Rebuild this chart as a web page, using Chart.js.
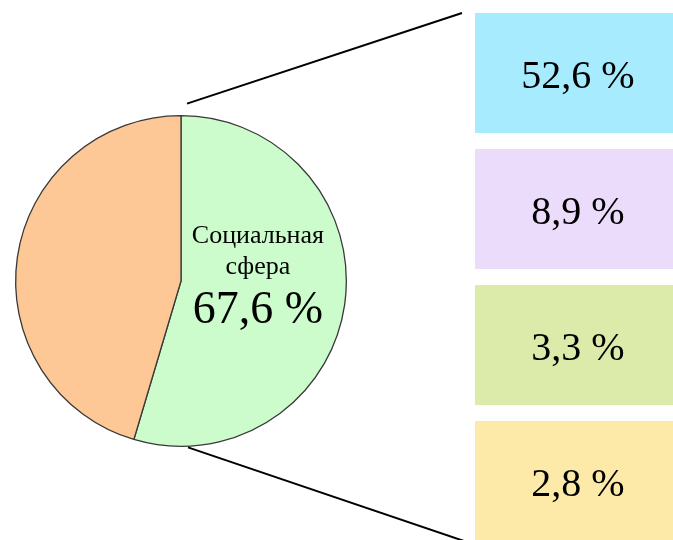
<!DOCTYPE html>
<html>
<head>
<meta charset="utf-8">
<script src="https://cdn.jsdelivr.net/npm/chart.js@4"></script>
<style>
  html, body { margin: 0; padding: 0; background: #fff; overflow: hidden; }
  #wrap { position: relative; width: 673px; height: 540px; overflow: hidden; }
  #pieChart { position: absolute; left: 0; top: 0; }
  #boxChart { position: absolute; left: 475px; top: 5px; }
</style>
</head>
<body>
<div id="wrap">
  <canvas id="pieChart" width="673" height="540"></canvas>
  <canvas id="boxChart" width="206" height="544"></canvas>
</div>
<script>
// slice shares as drawn in the picture
const sliceLabels = ['Социальная сфера', 'Прочее'];
const sliceValues = [54.6, 45.4];
const sliceColors = ['#ccfccc', '#fec896'];
const totalLabel = 67.6; // shown inside the green slice

// breakdown boxes on the right (they run past the right edge)
const boxLabels = ['a', 'b', 'c', 'd'];
const boxValues = [52.6, 8.9, 3.3, 2.8];
const boxColors = ['#a6ecfe', '#ecdcfc', '#dcebaa', '#feeaa8'];

const serif = "'Liberation Serif', 'Times New Roman', serif";
const fmt = v => v.toFixed(1).replace('.', ',') + ' %';

// text inside the green slice + connector lines
const pieDecor = {
    id: 'pieDecor',
    afterDraw(chart) {
        const arc = chart.getDatasetMeta(0).data[0];
        const cx = arc.x, cy = arc.y, r = arc.outerRadius;
        const ctx = chart.ctx;
        ctx.save();
        ctx.fillStyle = '#000';
        ctx.textAlign = 'center';
        ctx.textBaseline = 'alphabetic';
        const tx = cx + r * 0.465;
        const words = sliceLabels[0].split(' ');
        ctx.font = '26px ' + serif;
        ctx.fillText(words[0], tx, cy - 38);
        ctx.fillText(words[1], tx, cy - 7);
        ctx.font = '46px ' + serif;
        ctx.fillText(fmt(totalLabel), tx, cy + 42);

        // lines to the boxes
        ctx.strokeStyle = '#000';
        ctx.lineWidth = 2;
        ctx.beginPath();
        ctx.moveTo(cx + 6, cy - r - 12);
        ctx.lineTo(462, 13);
        ctx.moveTo(cx + 7, cy + r + 1);
        ctx.lineTo(464, 541);
        ctx.stroke();
        ctx.restore();
    }
};

new Chart(document.getElementById('pieChart'), {
    type: 'pie',
    data: {
        labels: sliceLabels,
        datasets: [{
            data: sliceValues,
            backgroundColor: sliceColors,
            borderColor: '#383838',
            borderWidth: 1.3
        }]
    },
    options: {
        responsive: false,
        animation: false,
        layout: { padding: { left: 15, top: 115, right: 326, bottom: 93 } },
        plugins: { legend: { display: false }, tooltip: { enabled: false } }
    },
    plugins: [pieDecor]
});

// value text in the middle of each box
const boxText = {
    id: 'boxText',
    afterDatasetsDraw(chart) {
        const ctx = chart.ctx;
        ctx.save();
        ctx.fillStyle = '#000';
        ctx.textAlign = 'center';
        ctx.textBaseline = 'middle';
        ctx.font = '40px ' + serif;
        chart.getDatasetMeta(0).data.forEach((bar, i) => {
            ctx.fillText(fmt(boxValues[i]), (bar.x + bar.base) / 2, bar.y + 4);
        });
        ctx.restore();
    }
};

new Chart(document.getElementById('boxChart'), {
    type: 'bar',
    data: {
        labels: boxLabels,
        datasets: [{
            data: boxValues.map(() => 1),
            backgroundColor: boxColors,
            borderWidth: 0,
            barPercentage: 1,
            categoryPercentage: 120 / 136
        }]
    },
    options: {
        indexAxis: 'y',
        responsive: false,
        animation: false,
        layout: { padding: 0 },
        scales: {
            x: { display: false, min: 0, max: 1 },
            y: { display: false }
        },
        plugins: { legend: { display: false }, tooltip: { enabled: false } }
    },
    plugins: [boxText]
});
</script>
</body>
</html>
